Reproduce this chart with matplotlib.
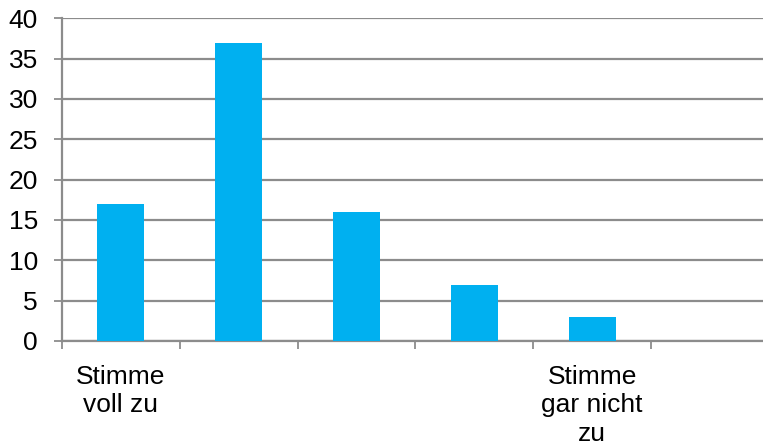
import matplotlib
matplotlib.use("Agg")
import matplotlib.pyplot as plt
import numpy as np

categories = ["Stimme\nvoll zu", "", "", "", "Stimme\ngar nicht\nzu", ""]
values = [17, 37, 16, 7, 3, 0]
y_ticks = [0, 5, 10, 15, 20, 25, 30, 35, 40]

BAR_COLOR = "#00B0F0"
GRID_COLOR = "#8C8C8C"

plt.rcParams["font.family"] = ["Liberation Sans", "DejaVu Sans"]

fig = plt.figure(figsize=(7.63, 4.46), dpi=100)
ax = fig.add_axes([62 / 763, 1 - 341 / 446, (769 - 62) / 763, (341 - 18.3) / 446])

x = np.arange(len(values)) + 0.5
ax.bar(x, values, width=0.4, color=BAR_COLOR, zorder=3)

ax.set_xlim(0, len(values))
ax.set_ylim(0, 40)
ax.set_yticks(y_ticks)
ax.yaxis.grid(True, color=GRID_COLOR, linewidth=1.6, zorder=0)
ax.set_axisbelow(True)

# category boundaries get tick marks, centres get labels
ax.set_xticks(np.arange(len(values) + 1))
ax.set_xticklabels([])
ax.set_xticks(x, minor=True)
ax.set_xticklabels(categories, minor=True, fontsize=19, linespacing=1.24)
ax.tick_params(axis="x", which="major", length=5.8, width=1.3, color=GRID_COLOR, direction="out")
ax.tick_params(axis="x", which="minor", length=0, pad=17)
ax.tick_params(axis="y", length=5.8, width=1.3, color=GRID_COLOR, labelsize=19, pad=11.5)

for side in ("top", "right"):
    ax.spines[side].set_visible(False)
for side in ("left", "bottom"):
    ax.spines[side].set_color(GRID_COLOR)
    ax.spines[side].set_linewidth(1.6)

fig.savefig("out.png", dpi=100)
